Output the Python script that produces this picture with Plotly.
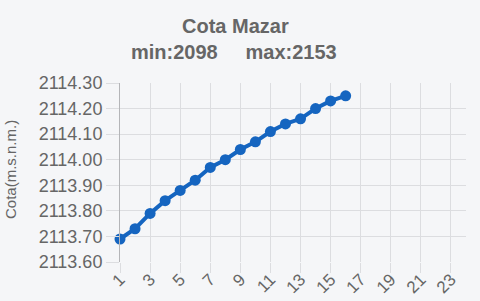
import plotly.graph_objects as go

hours = list(range(1, 17))
cota = [2113.69, 2113.73, 2113.79, 2113.84, 2113.88, 2113.92, 2113.97, 2114.00,
        2114.04, 2114.07, 2114.11, 2114.14, 2114.16, 2114.20, 2114.23, 2114.25]
title_text = "Cota Mazar"
subtitle_text = "min:2098\u00a0\u00a0\u00a0\u00a0\u00a0max:2153"
y_title = "Cota(m.s.n.m.)"

W, H = 480, 301
L, R, T, B = 120, 14, 83, 39
pw, ph = W - L - R, H - T - B

def px_x(p):
    return (p - L) / pw

def px_y(p):
    return (H - B - p) / ph

font = "Liberation Sans, Arial, sans-serif"
txt = "#666666"
grid = "#dcdde0"
bg = "#f5f6f8"

fig = go.Figure()
fig.add_trace(go.Scatter(
    x=hours, y=cota, mode="lines+markers",
    line=dict(color="#1565c0", width=4),
    marker=dict(color="#1565c0", size=11),
    showlegend=False, hoverinfo="skip", cliponaxis=False,
))

fig.update_layout(
    width=W, height=H,
    margin=dict(l=L, r=R, t=T, b=B, pad=0),
    paper_bgcolor=bg, plot_bgcolor=bg,
    font=dict(family=font, color=txt),
    xaxis=dict(range=[1, 24], tick0=1, dtick=2, tickangle=-45,
               showgrid=True, gridcolor=grid, gridwidth=1,
               ticks="outside", ticklen=10, tickcolor=grid,
               ticklabelstandoff=-10, automargin=False,
               tickfont=dict(size=17, color=txt),
               zeroline=False, showline=False, fixedrange=True),
    yaxis=dict(range=[2113.6, 2114.3], tick0=2113.6, dtick=0.1, tickformat=".2f",
               showgrid=True, gridcolor=grid, gridwidth=1,
               ticks="outside", ticklen=13, tickcolor=grid, automargin=False,
               tickfont=dict(size=18, color=txt),
               showline=True, linecolor="#b4b5b8", linewidth=1,
               zeroline=False, fixedrange=True),
    annotations=[
        dict(text="<b>" + title_text + "</b>", x=px_x(235), y=px_y(26),
             xref="paper", yref="paper", showarrow=False,
             xanchor="center", yanchor="middle",
             font=dict(size=20, color=txt, family=font)),
        dict(text="<b>" + subtitle_text + "</b>", x=px_x(234), y=px_y(52),
             xref="paper", yref="paper", showarrow=False,
             xanchor="center", yanchor="middle",
             font=dict(size=20, color=txt, family=font)),
        dict(text=y_title, x=px_x(10), y=px_y(170),
             xref="paper", yref="paper", showarrow=False, textangle=-90,
             xanchor="center", yanchor="middle",
             font=dict(size=15, color=txt, family=font)),
    ],
)

fig.write_html("out.html")
